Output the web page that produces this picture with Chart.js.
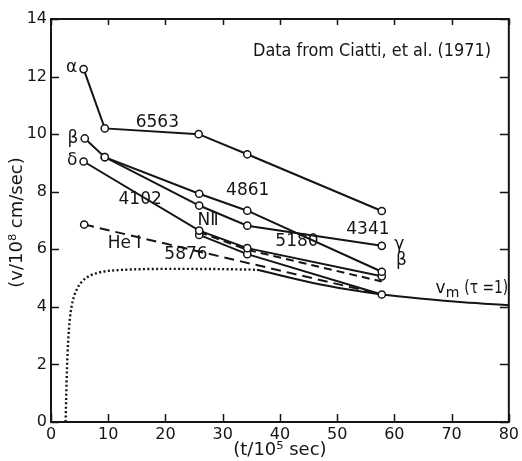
<!DOCTYPE html>
<html>
<head>
<meta charset="utf-8">
<script src="https://cdn.jsdelivr.net/npm/chart.js@4/dist/chart.umd.min.js"></script>
<style>
  html, body { margin: 0; padding: 0; background: #fff; }
  canvas { display: block; }
</style>
</head>
<body>
<canvas id="velocityChart" width="522" height="461"></canvas>
<script>
// time in units of 10^5 sec, velocity in units of 10^8 cm/sec
const xTicks = [0, 10, 20, 30, 40, 50, 60, 70, 80];
const yTicks = [0, 2, 4, 6, 8, 10, 12, 14];

const tAlpha = [5.7, 9.4, 25.8, 34.3, 57.8];
const vAlpha = [12.26, 10.2, 10.0, 9.3, 7.33];

const tBeta = [5.9, 9.4, 25.9, 34.3, 57.8];
const vBeta = [9.85, 9.2, 7.93, 7.34, 5.22];

const tGamma = [9.4, 25.9, 34.3, 57.8];
const vGamma = [9.2, 7.52, 6.82, 6.12];

const tDelta = [5.7, 25.9, 34.3, 57.8];
const vDelta = [9.05, 6.65, 6.04, 5.06];

const tN2dash = [25.9, 34.3, 57.8];
const vN2dash = [6.6, 5.98, 4.88];

const tN2 = [25.9, 34.3, 57.8];
const vN2 = [6.5, 5.83, 4.43];

const tHe = [5.8, 57.8];
const vHe = [6.86, 4.43];

const tVmDot = [2.55, 2.65, 2.8, 3.0, 3.3, 3.8, 4.5, 5.5, 7, 9, 12, 16, 22, 30, 36];
const vVmDot = [0, 0.8, 1.9, 2.8, 3.6, 4.2, 4.6, 4.9, 5.1, 5.22, 5.28, 5.31, 5.32, 5.31, 5.29];

const tVm = [36, 40, 46, 52, 57.8, 65, 72, 80];
const vVm = [5.29, 5.1, 4.82, 4.6, 4.43, 4.28, 4.16, 4.06];

// text labels placed at data coordinates
const labels = [
    { text: 'α', x: 4.6, y: 12.3, align: 'right' },
    { text: '6563', x: 14.8, y: 10.4 },
    { text: 'β', x: 4.8, y: 9.85, align: 'right' },
    { text: 'δ', x: 4.6, y: 9.08, align: 'right' },
    { text: '4861', x: 30.6, y: 8.05 },
    { text: '4102', x: 11.8, y: 7.72 },
    { text: 'NⅡ', x: 25.6, y: 6.98 },
    { text: 'He I', x: 9.9, y: 6.2 },
    { text: '5876', x: 19.8, y: 5.8 },
    { text: '5180', x: 39.2, y: 6.28 },
    { text: '4341', x: 51.6, y: 6.68 },
    { text: 'γ', x: 60.0, y: 6.15 },
    { text: 'β', x: 60.3, y: 5.6 }
];

const black = '#151515';

function series(ts, vs, extra) {
    return Object.assign({
        data: ts.map((t, i) => ({ x: t, y: vs[i] })),
        showLine: true,
        borderColor: black,
        borderWidth: 2,
        pointRadius: 3.6,
        pointBackgroundColor: '#fff',
        pointBorderColor: black,
        pointBorderWidth: 1.5,
        tension: 0,
        fill: false
    }, extra || {});
}

const frameAndText = {
    id: 'frameAndText',
    afterDraw(chart) {
        const ctx = chart.ctx;
        const a = chart.chartArea;
        const xs = chart.scales.x;
        const ys = chart.scales.y;
        ctx.save();
        ctx.strokeStyle = black;
        ctx.lineWidth = 2;
        ctx.strokeRect(a.left, a.top, a.right - a.left, a.bottom - a.top);

        // inward ticks on all four sides
        ctx.lineWidth = 1.5;
        ctx.beginPath();
        xTicks.forEach(v => {
            const px = Math.round(xs.getPixelForValue(v)) + 0.5;
            ctx.moveTo(px, a.bottom); ctx.lineTo(px, a.bottom - 8);
            ctx.moveTo(px, a.top); ctx.lineTo(px, a.top + 6);
        });
        yTicks.forEach(v => {
            const py = Math.round(ys.getPixelForValue(v)) + 0.5;
            ctx.moveTo(a.left, py); ctx.lineTo(a.left + 8, py);
            ctx.moveTo(a.right, py); ctx.lineTo(a.right - 9, py);
        });
        ctx.stroke();

        ctx.fillStyle = black;
        ctx.textBaseline = 'middle';
        ctx.font = '17px "DejaVu Sans"';
        labels.forEach(l => {
            ctx.textAlign = l.align || 'left';
            ctx.fillText(l.text, xs.getPixelForValue(l.x), ys.getPixelForValue(l.y));
        });

        // v_m (tau = 1)
        let px = xs.getPixelForValue(67.2);
        const py = ys.getPixelForValue(4.64);
        ctx.textAlign = 'left';
        ctx.fillText('v', px, py);
        px += ctx.measureText('v').width;
        ctx.font = '14px "DejaVu Sans"';
        ctx.fillText('m', px, py + 5);
        px += ctx.measureText('m').width + 5;
        ctx.font = '17px "DejaVu Sans"';
        ctx.fillText('(τ =1)', px, py, 44);

        ctx.fillText('Data from Ciatti, et al. (1971)',
            xs.getPixelForValue(35.3), ys.getPixelForValue(12.88), 238);

        // axis titles
        ctx.font = '18px "DejaVu Sans"';
        ctx.textAlign = 'center';
        ctx.fillText('(t/10⁵ sec)', (a.left + a.right) / 2, 450);
        ctx.translate(17, (a.top + a.bottom) / 2 + 2);
        ctx.rotate(-Math.PI / 2);
        ctx.fillText('(v/10⁸ cm/sec)', 0, 0);
        ctx.restore();
    }
};

new Chart(document.getElementById('velocityChart'), {
    type: 'scatter',
    data: {
        datasets: [
            series(tAlpha, vAlpha),
            series(tBeta, vBeta),
            series(tGamma, vGamma),
            series(tDelta, vDelta),
            series(tN2dash, vN2dash, { borderDash: [8, 5], pointRadius: 0 }),
            series(tN2, vN2),
            series(tHe, vHe, { borderDash: [10, 6], pointRadius: [3.6, 0] }),
            series(tVmDot, vVmDot, {
                borderDash: [2, 2.4], borderWidth: 2.4, pointRadius: 0,
                cubicInterpolationMode: 'monotone'
            }),
            series(tVm, vVm, { pointRadius: 0, cubicInterpolationMode: 'monotone' })
        ]
    },
    options: {
        responsive: false,
        animation: false,
        layout: { autoPadding: false, padding: { top: 19, right: 9, left: 0, bottom: 0 } },
        plugins: {
            legend: { display: false },
            tooltip: { enabled: false }
        },
        scales: {
            x: {
                type: 'linear',
                min: 0,
                max: 80,
                afterFit: s => { s.height = 39; },
                afterBuildTicks: s => { s.ticks = xTicks.map(v => ({ value: v })); },
                grid: { display: false, drawTicks: false, tickLength: 0 },
                border: { display: false },
                ticks: { color: black, padding: 3, font: { family: 'DejaVu Sans', size: 16 } }
            },
            y: {
                type: 'linear',
                min: 0,
                max: 14,
                afterFit: s => { s.width = 51; },
                afterBuildTicks: s => { s.ticks = yTicks.map(v => ({ value: v })); },
                grid: { display: false, drawTicks: false, tickLength: 0 },
                border: { display: false },
                ticks: { color: black, padding: 4, font: { family: 'DejaVu Sans', size: 16 } }
            }
        }
    },
    plugins: [frameAndText]
});
</script>
</body>
</html>
